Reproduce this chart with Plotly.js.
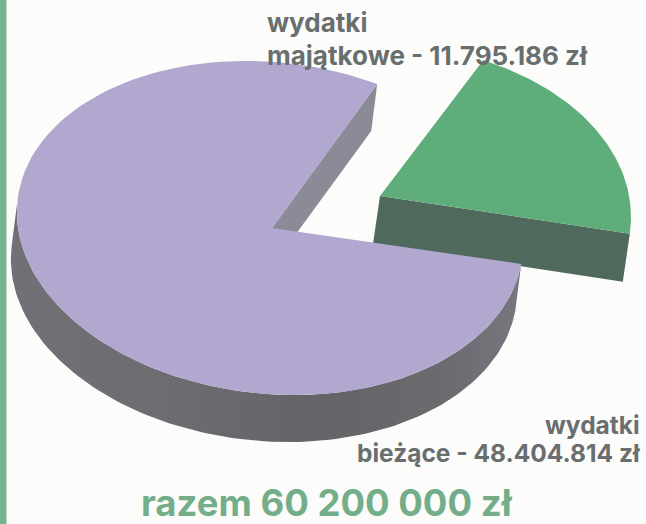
<!DOCTYPE html>
<html><head><meta charset="utf-8">
<script src="https://cdn.plot.ly/plotly-3.0.1.min.js"></script>
<style>html,body{margin:0;padding:0;background:#fcfcfb}</style></head>
<body><div id="chart" style="width:646px;height:524px"></div>
<script>
const categories = ["wydatki bieżące", "wydatki majątkowe"];
const amounts = [48404814, 11795186];
const labelCurrent = ["wydatki", "bieżące - 48.404.814 zł"];
const labelCapital = ["wydatki", "majątkowe - 11.795.186 zł"];
const totalLabel = "razem 60 200 000 zł";

const FONT = "Inter, sans-serif";
const total = amounts[0] + amounts[1];
const gapDeg = amounts[1] / total * 360;
const rad = d => d * Math.PI / 180;

// Pseudo-3D discs: sector geometry is derived from the value shares.
const big = {cx: 270, cy: 228, rx: 252, ry: 167, shear: 24, apex: [272, 228], start: 59.5, off: [-6, 47], persp: 1.02};
const small = {cx: 375, cy: 217, rx: 256, ry: 173, shear: 0, apex: [380, 196], start: 65, off: [-7, 48], persp: 1};

function pt(d, t, o) {
  const a = rad(t), k = o ? 1 : 0;
  return [d.cx + d.rx * Math.cos(a) - d.shear * Math.sin(a) + k * d.off[0],
          d.cy - d.ry * Math.sin(a) + k * d.off[1]];
}
function arc(d, from, to, o) {
  const n = 120, res = [];
  for (let i = 0; i <= n; i++) res.push(pt(d, from + (to - from) * i / n, o));
  return res;
}
function poly(points, color, extra) {
  const closed = points.concat([points[0]]);
  return Object.assign({
    type: "scatter", mode: "lines", x: closed.map(p => p[0]), y: closed.map(p => p[1]),
    fill: "toself", fillcolor: color, line: {width: 0, color: color}, hoverinfo: "skip", showlegend: false
  }, extra || {});
}

// capital expenses slice (pulled out)
const sStart = small.start, sEnd = small.start - gapDeg * small.persp;
const sCorner = pt(small, sEnd, false), sCornerLow = pt(small, sEnd, true);
const smallFace = [small.apex, sCorner, sCornerLow, [small.apex[0] + small.off[0], small.apex[1] + small.off[1]]];
const smallTop = [small.apex].concat(arc(small, sStart, sEnd, false));

// current expenses slice
const bStart = big.start, bEnd = big.start - gapDeg * big.persp;
const bCorner = pt(big, bStart, false), bCornerLow = pt(big, bStart, true);
const bigFace = [big.apex, bCorner, bCornerLow, [big.apex[0] + big.off[0], big.apex[1] + big.off[1]]];
const bigWall = arc(big, bEnd, -190, false).concat(arc(big, -190, bEnd, true));
const bigTopPts = [big.apex].concat(arc(big, bStart, bEnd + 360, false));

const traces = [
  poly(smallFace, "#4f6a5c", {name: categories[1] + " bok"}),
  poly(smallTop, "#5fad7b", {name: categories[1]}),
  poly(bigFace, "#8b8a97", {name: categories[0] + " ścianka"}),
  poly(bigWall, "#6b6b70", {name: categories[0] + " bok",
    fillgradient: {type: "horizontal", colorscale: [[0, "#707076"], [0.3, "#6c6c71"], [0.6, "#636468"], [0.85, "#6a6a6f"], [1, "#78777f"]]}}),
  poly(bigTopPts, "#b1a7cf", {name: categories[0]})
];

const textColor = "#696e6e";
function note(text, x, y, anchor, size, color) {
  return {x: x, y: y, xref: "x", yref: "y", text: text, showarrow: false, xanchor: anchor, yanchor: "middle",
          font: {family: FONT, size: size, color: color, weight: 700}};
}
const layout = {
  width: 646, height: 524, margin: {l: 0, r: 0, t: 0, b: 0},
  paper_bgcolor: "#fcfcfb", plot_bgcolor: "#fcfcfb", showlegend: false,
  xaxis: {range: [0, 646], visible: false, fixedrange: true},
  yaxis: {range: [524, 0], visible: false, fixedrange: true},
  shapes: [{type: "rect", xref: "paper", yref: "paper", x0: 0, x1: 6.5 / 646, y0: 0, y1: 1, fillcolor: "#74b48f", line: {width: 0}}],
  annotations: [
    note(labelCapital[0], 265, 22.5, "left", 26, textColor),
    note(labelCapital[1], 265, 55.5, "left", 26, textColor),
    note(labelCurrent[0], 642, 425, "right", 24.5, textColor),
    note(labelCurrent[1], 642, 453, "right", 24.5, textColor),
    note(totalLabel, 327, 503, "center", 36.5, "#74ad8a")
  ]
};
Plotly.newPlot("chart", traces, layout, {displayModeBar: false, staticPlot: true});
</script></body></html>
